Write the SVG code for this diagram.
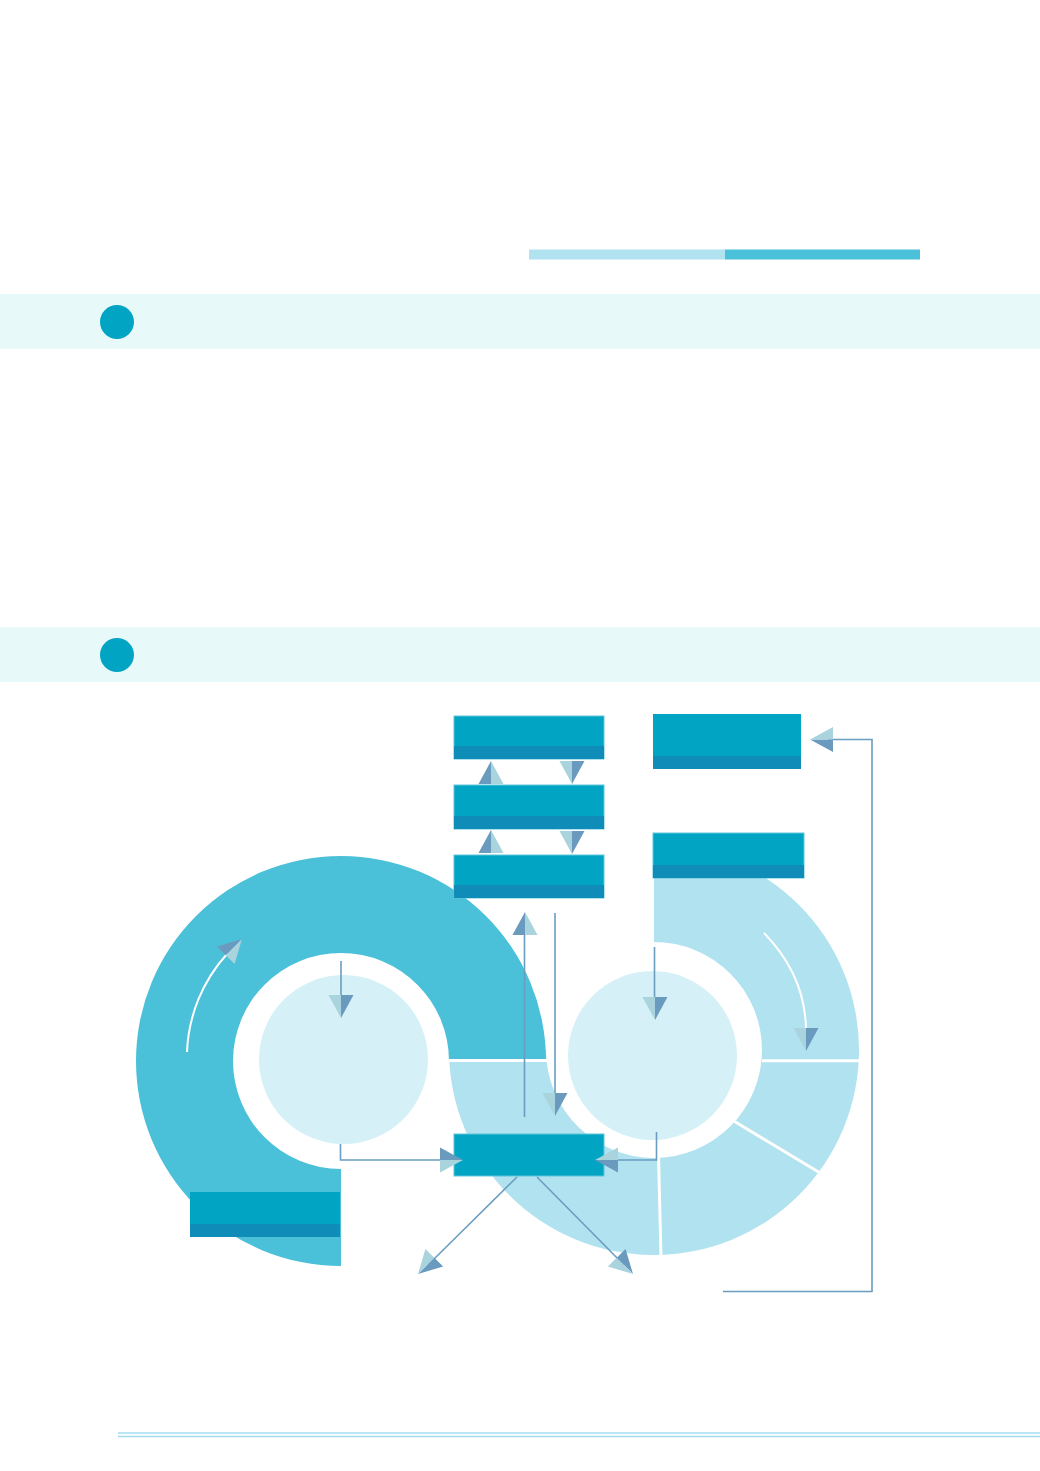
<svg xmlns="http://www.w3.org/2000/svg" xmlns:xlink="http://www.w3.org/1999/xlink" width="1040" height="1471" viewBox="0 0 1040 1471">
<style>
.band{fill:#E8F9FA}
.bullet{fill:#02A4C3}
.box{fill:#02A4C3}
.boxb{fill:#02A4C3;stroke:#5FC6DC;stroke-width:1}
.strip{fill:#0F8DB8}
.conn{fill:none;stroke:#6A9DC0;stroke-width:1.6}
.sep{stroke:#FFFFFF;stroke-width:3;fill:none}
.warc{fill:none;stroke:#FFFFFF;stroke-width:2}
.foot{stroke:#A3DCF1;stroke-width:1.6}
</style>
<defs>
<g id="ah">
<path d="M0,0 L-12.5,23 L0,23 Z" fill="#6A9BBE"/>
<path d="M0,0 L12.5,23 L0,23 Z" fill="#A9D3DD"/>
</g>
</defs>
<rect width="1040" height="1471" fill="#FFFFFF"/>
<g id="title-bar">
<rect x="529" y="249.5" width="196" height="10" fill="#B0E2F0"/>
<rect x="725" y="249.5" width="195" height="10" fill="#4BC0D9"/>
</g>
<g id="section-1">
<rect class="band" x="0" y="294" width="1040" height="55"/>
<circle class="bullet" cx="117" cy="322" r="17"/>
</g>
<g id="section-2">
<rect class="band" x="0" y="627" width="1040" height="55"/>
<circle class="bullet" cx="117" cy="655" r="17"/>
</g>
<g id="right-ring">
<path d="M654,845 A205,205 0 1 1 449,1050 L546,1050 A108,108 0 1 0 654,942 Z" fill="#B0E2F0"/>
<circle cx="652.5" cy="1055.5" r="84.5" fill="#D5F1F7"/>
</g>
<g id="left-ring">
<path d="M341,1266 A205,205 0 1 1 546,1061 L449,1061 A108,108 0 1 0 341,1169 Z" fill="#4BC0D9"/>
<circle cx="343.5" cy="1059.5" r="84.5" fill="#D5F1F7"/>
</g>
<g id="separators">
<line class="sep" x1="449" y1="1060.5" x2="547" y2="1060.5"/>
<line class="sep" x1="762" y1="1060.7" x2="861" y2="1060.7"/>
<line class="sep" x1="733" y1="1120.5" x2="821" y2="1173.5"/>
<line class="sep" x1="658.5" y1="1155" x2="661" y2="1258"/>
<path class="warc" d="M187,1052 A155,155 0 0 1 227,954"/>
<path class="warc" d="M764,933 Q805,975 806,1029"/>
</g>
<g id="node-a">
<rect class="boxb" x="454" y="716" width="150" height="43"/>
<rect class="strip" x="454" y="746" width="150" height="13"/>
</g>
<g id="node-b">
<rect class="boxb" x="454" y="785" width="150" height="44"/>
<rect class="strip" x="454" y="816" width="150" height="13"/>
</g>
<g id="node-c">
<rect class="boxb" x="454" y="855" width="150" height="43"/>
<rect class="strip" x="454" y="885" width="150" height="13"/>
</g>
<g id="node-d">
<rect class="box" x="653" y="714" width="148" height="55"/>
<rect class="strip" x="653" y="756" width="148" height="13"/>
</g>
<g id="node-e">
<rect class="boxb" x="653" y="833" width="151" height="45"/>
<rect class="strip" x="653" y="865" width="151" height="13"/>
</g>
<g id="node-f">
<rect class="boxb" x="454" y="1134" width="150" height="42"/>
</g>
<g id="node-g">
<rect class="box" x="190" y="1192" width="150" height="45"/>
<rect class="strip" x="190" y="1224" width="150" height="13"/>
</g>
<g id="connectors">
<line class="conn" x1="341" y1="961" x2="341" y2="1000"/>
<polyline class="conn" points="340.5,1144 340.5,1160 445,1160"/>
<line class="conn" x1="524.5" y1="1117" x2="524.5" y2="930"/>
<line class="conn" x1="555" y1="913" x2="555" y2="1100"/>
<line class="conn" x1="654.5" y1="947" x2="654.5" y2="1002"/>
<polyline class="conn" points="656.5,1132 656.5,1160 612,1160"/>
<line class="conn" x1="517" y1="1177" x2="428" y2="1265"/>
<line class="conn" x1="537" y1="1177" x2="624" y2="1265"/>
<polyline class="conn" points="723,1291.5 872,1291.5 872,739.5 828,739.5"/>
<use href="#ah" transform="translate(491,761)"/>
<use href="#ah" transform="translate(491,830)"/>
<use href="#ah" transform="translate(572,784) rotate(180)"/>
<use href="#ah" transform="translate(572,854) rotate(180)"/>
<use href="#ah" transform="translate(525,912)"/>
<use href="#ah" transform="translate(555,1116) rotate(180)"/>
<use href="#ah" transform="translate(341,1018) rotate(180)"/>
<use href="#ah" transform="translate(655,1020) rotate(180)"/>
<use href="#ah" transform="translate(806,1051) rotate(180)"/>
<use href="#ah" transform="translate(463,1160) rotate(90)"/>
<use href="#ah" transform="translate(595,1160) rotate(-90)"/>
<use href="#ah" transform="translate(810,739.5) rotate(-90)"/>
<use href="#ah" transform="translate(242,939) rotate(45)"/>
<use href="#ah" transform="translate(418,1274) rotate(225)"/>
<use href="#ah" transform="translate(633,1274) rotate(135)"/>
</g>
<g id="footer">
<line class="foot" x1="118" y1="1433" x2="1040" y2="1433"/>
<line class="foot" x1="118" y1="1436.5" x2="1040" y2="1436.5"/>
</g>
</svg>
